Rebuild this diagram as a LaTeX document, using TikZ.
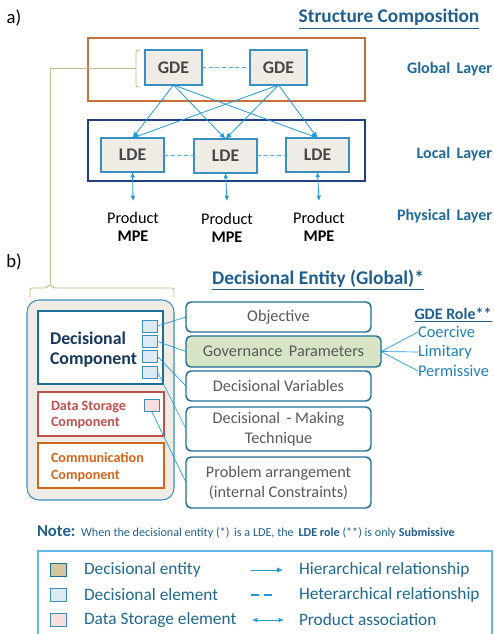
\documentclass[tikz,border=0pt]{standalone}
\usepackage{fontspec}
\setmainfont{Carlito}
\usetikzlibrary{arrows.meta}
\newdimen\pxu
\pxu=0.75pt
\definecolor{conn}{HTML}{1E9BD7}
\definecolor{dashc}{HTML}{4DB3E0}
\definecolor{headblue}{HTML}{1F5F8F}
\definecolor{layerblue}{HTML}{1F6A9A}
\definecolor{roleblue}{HTML}{1F7FB5}
\definecolor{boxblue}{HTML}{3A8FC0}
\definecolor{boxdark}{HTML}{1F6E96}
\definecolor{globorange}{HTML}{C6703A}
\definecolor{locnavy}{HTML}{203F7C}
\definecolor{entfill}{HTML}{EFEBE5}
\definecolor{bracec}{HTML}{C8B98E}
\definecolor{elemfill}{HTML}{DCEAF4}
\definecolor{storefill}{HTML}{FADEDF}
\definecolor{govfill}{HTML}{D7E4C6}
\definecolor{storered}{HTML}{C0504D}
\definecolor{commorange}{HTML}{D2651A}
\definecolor{dcnavy}{HTML}{17375E}
\definecolor{textgrey}{HTML}{595959}
\definecolor{tanfill}{HTML}{D5C6A0}
\definecolor{legendc}{HTML}{1F6890}

\begin{document}
\begin{tikzpicture}[x=0.75pt, y=-0.75pt,
    every node/.style = {inner sep=0pt, outer sep=0pt},
    entity/.style = {draw=boxblue, fill=entfill, line width=0.8pt, text=black!72,
        font=\fontsize{13.3}{16}\selectfont\bfseries, minimum width=57\pxu, minimum height=35\pxu},
    lentity/.style = {entity, minimum width=63\pxu, minimum height=34\pxu},
    hier/.style = {conn, line width=0.6pt, -{Latex[length=4.5pt,width=4pt]}},
    hetero/.style = {dashc, line width=0.9pt, dash pattern=on 3pt off 2pt},
    prodassoc/.style = {conn, line width=0.6pt, {Latex[length=4pt,width=3.5pt]}-{Latex[length=4pt,width=3.5pt]}},
    product/.style = {align=center, font=\fontsize{12.2}{13.5}\selectfont},
    layer/.style = {anchor=east, text=layerblue, font=\fontsize{12}{14}\selectfont\bfseries},
    title/.style = {text=headblue, font=\fontsize{14.5}{17}\selectfont\bfseries},
    elem/.style = {draw=boxblue, fill=elemfill, line width=0.6pt, minimum width=15\pxu, minimum height=12\pxu},
    part/.style = {draw=boxdark, fill=white, line width=1.1pt, rounded corners=5\pxu, minimum width=185\pxu,
        text=textgrey, font=\fontsize{12.2}{15}\selectfont, align=center},
    comp/.style = {fill=white, line width=1.1pt, minimum width=126\pxu},
    complabel/.style = {anchor=west, align=left, font=\fontsize{10.6}{12.5}\selectfont\bfseries},
    link/.style = {conn, line width=0.5pt},
    role/.style = {anchor=west, text=roleblue, font=\fontsize{12.3}{14}\selectfont},
    legsq/.style = {draw=boxblue, line width=0.6pt, minimum width=16\pxu, minimum height=13\pxu},
    legtext/.style = {anchor=west, text=legendc, font=\fontsize{13}{15}\selectfont}]
\useasboundingbox (0,0) rectangle (493,634);

\node[font=\fontsize{14}{16}\selectfont] (parta) at (14,18) {a)};
\node[title] (structtitle) at (389,19) {\underline{Structure Composition}};

\node[draw=globorange, line width=0.8pt, minimum width=277\pxu, minimum height=63\pxu] (globbox) at (226.5,69.5) {};
\node[draw=locnavy, line width=0.8pt, minimum width=277\pxu, minimum height=61\pxu] (locbox) at (226.5,150.5) {};

\node[entity] (gde1) at (173.5,67.5) {GDE};
\node[entity] (gde2) at (278.5,67.5) {GDE};
\node[lentity] (lde1) at (132.5,155) {LDE};
\node[lentity] (lde2) at (225.5,156) {LDE};
\node[lentity] (lde3) at (317.5,155) {LDE};

\draw[hetero] (gde1) -- (gde2);
\draw[hetero] (lde1) -- (lde2);
\draw[hetero] (lde2) -- (lde3);

\foreach \g in {gde1, gde2}
  \foreach \l in {lde1, lde2, lde3}
    \draw[hier] (\g.south) -- (\l.north);

\node[product] (prod1) at (133,227) {Product\\\textbf{MPE}};
\node[product] (prod2) at (227,228) {Product\\\textbf{MPE}};
\node[product] (prod3) at (319,227) {Product\\\textbf{MPE}};
\draw[prodassoc] (lde1.south) -- (prod1.north |- 0,201);
\draw[prodassoc] (lde2.south) -- (prod2.north |- 0,201);
\draw[prodassoc] (lde3.south) -- (prod3.north |- 0,201);

\node[layer] (globlabel) at (492,69) {Global\, Layer};
\node[layer] (loclabel) at (492,154) {Local\, Layer};
\node[layer] (physlabel) at (492,216) {Physical\, Layer};

\draw[bracec, line width=0.7pt, rounded corners=1.5pt] (140,50) -- (136,50) -- (136,87) -- (140,87);
\coordinate (bracea) at (136,68);
\coordinate (braceb) at (50,284);
\draw[bracec, line width=0.7pt] (bracea) -| (braceb);
\draw[bracec, line width=0.7pt, rounded corners=1.5pt] (30,297) -- (30,288) -- (47,288) -- (braceb) -- (53,288) -- (174,288) -- (174,297);

\node[font=\fontsize{14}{16}\selectfont] (partb) at (14,262) {b)};
\node[title] (entitytitle) at (318,280) {\underline{Decisional Entity (Global)*}};

\node[draw=boxblue, fill=entfill, line width=0.8pt, rounded corners=9pt, minimum width=147\pxu, minimum height=200\pxu] (gentity) at (100.5,400) {};
\node[comp, draw=boxdark, minimum width=125\pxu, minimum height=73\pxu] (dcomp) at (100.5,347.5) {};
\node[anchor=west, align=left, text=dcnavy, font=\fontsize{13.4}{15}\selectfont\bfseries] (dclabel) at (50,350) {Decisional\\Component};
\node[comp, draw=storered, minimum height=44\pxu] (dstore) at (101,414) {};
\node[complabel, text=storered] (dslabel) at (51,415) {Data Storage\\Component};
\node[comp, draw=commorange, minimum height=45\pxu] (dcomm) at (101,465.5) {};
\node[complabel, text=commorange] (cclabel) at (51,467) {Communication\\Component};

\node[elem] (el1) at (150,326) {};
\node[elem] (el2) at (150,341.5) {};
\node[elem] (el3) at (150,356.5) {};
\node[elem] (el4) at (150,372) {};
\node[elem, fill=storefill, minimum width=15\pxu] (sel) at (151.5,405) {};

\node[part, minimum height=30\pxu] (objective) at (278.5,317) {Objective};
\node[part, fill=govfill, minimum width=195\pxu, minimum height=31\pxu] (govparam) at (283.5,351.5) {Governance\, Parameters};
\node[part, minimum height=30\pxu] (decvar) at (278.5,386) {Decisional Variables};
\node[part, minimum height=44\pxu] (dmtech) at (278.5,429) {Decisional\, - Making\\Technique};
\node[part, minimum height=51\pxu] (probarr) at (278.5,482.5) {Problem arrangement\\(internal Constraints)};

\draw[link] (el1.east) -- (objective.west);
\draw[link] (el2.east) -- (govparam.west);
\draw[link] (el3.east) -- (decvar.west);
\draw[link] (el4.east) -- (dmtech.west);
\draw[link] (sel.south) -- (probarr.west);

\node[anchor=east, text=headblue, font=\fontsize{12}{14}\selectfont\bfseries] (roletitle) at (491.5,315) {\underline{GDE Role**}};
\node[role] (coercive) at (418,332) {Coercive};
\node[role] (limitary) at (418,352) {Limitary};
\node[role] (permissive) at (418,371) {Permissive};
\draw[link] (govparam.east) -- (coercive.west);
\draw[link] (govparam.east) -- (limitary.west);
\draw[link] (govparam.east) -- (permissive.west);

\node[anchor=west, text=headblue, font=\fontsize{9.1}{11}\selectfont] (note) at (37,532)
  {{\fontsize{12.5}{14}\selectfont\bfseries Note:}\, When the decisional entity (*)\, is a LDE, the\, \textbf{LDE role} (**) is only \textbf{Submissive}};

\node[draw=conn!70, line width=0.8pt, minimum width=454\pxu, minimum height=89\pxu] (legend) at (265,595.5) {};
\node[legsq, fill=tanfill, draw=boxdark] (legent) at (58,570) {};
\node[legsq, fill=elemfill] (legelem) at (58,595) {};
\node[legsq, fill=storefill] (legstore) at (58,620) {};
\node[legtext] (txtent) at (84,570) {Decisional entity};
\node[legtext] (txtelem) at (84,595) {Decisional element};
\node[legtext] (txtstore) at (84,620) {Data Storage element};
\coordinate (hiera) at (251,570);
\coordinate (hierb) at (283,570);
\coordinate (hetea) at (251,595);
\coordinate (heteb) at (273,595);
\coordinate (proda) at (252,620);
\coordinate (prodb) at (284,620);
\draw[hier] (hiera) -- (hierb);
\draw[conn, line width=1.5pt, dash pattern=on 6pt off 4pt] (hetea) -- (heteb);
\draw[prodassoc] (proda) -- (prodb);
\node[legtext] (txthier) at (299,570) {Hierarchical relationship};
\node[legtext] (txthete) at (299,595) {Heterarchical relationship};
\node[legtext] (txtprod) at (299,620) {Product association};
\end{tikzpicture}
\end{document}
